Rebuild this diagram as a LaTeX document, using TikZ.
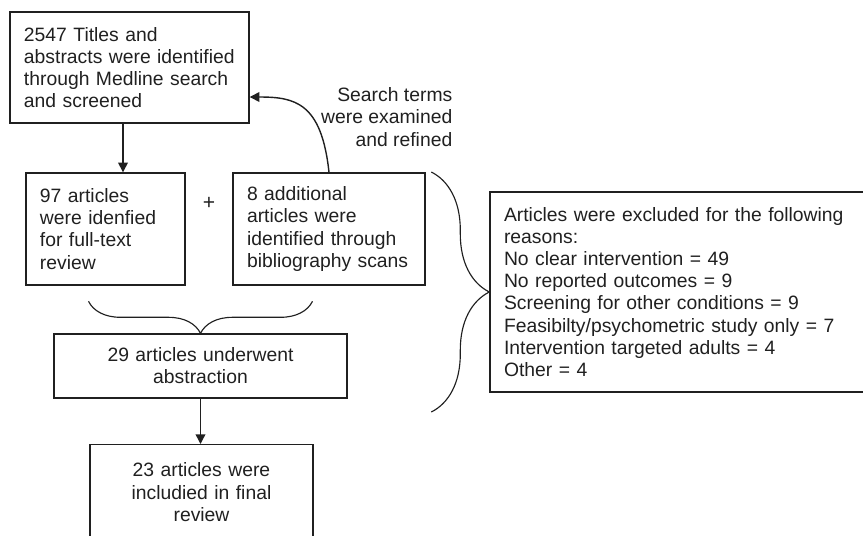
\documentclass[tikz,border=0pt]{standalone}
\usepackage{fontspec}
\setmainfont{Liberation Sans}
\usetikzlibrary{arrows.meta,positioning,calc,decorations.pathreplacing}
\definecolor{FlowInk}{RGB}{32,32,32}
\tikzset{
  lbox/.style={draw=FlowInk,line width=0.8pt,inner xsep=0.28cm,inner ysep=0pt,align=left,text=FlowInk,font=\fontsize{11}{12.6}\selectfont},
  cbox/.style={lbox,align=center},
  arr/.style={-{Triangle[length=5.5pt,width=5.5pt]},FlowInk,line width=0.8pt},
  brc/.style={decorate,FlowInk,line width=0.65pt},
}
\begin{document}
\begin{tikzpicture}
    \path[use as bounding box] (0,0) rectangle (17.26,-10.70);
    \clip (0,0) rectangle (17.26,-10.70);
    \node[lbox,text width=4.22cm,minimum height=2.22cm] (titles)   at (2.59,-1.35) {2547 Titles and\\abstracts were identified\\through Medline search\\and screened};
    \node[lbox,text width=2.62cm,minimum height=2.24cm] (fulltext) at (2.11,-4.58) {97 articles\\were idenfied\\for full-text\\review};
    \node[lbox,text width=3.28cm,minimum height=2.24cm] (biblio)   at (6.58,-4.58) {8 additional\\articles were\\identified through\\bibliography scans};
    \node[text=FlowInk,inner sep=0pt,font=\fontsize{12}{14}\selectfont] (plus) at (4.18,-4.06) {+};
    \node[cbox,text width=5.30cm,minimum height=1.28cm] (abstr) at (4.01,-7.32) {29 articles underwent\\abstraction};
    \node[cbox,text width=3.90cm,minimum height=1.90cm,anchor=north] (final) at (4.03,-8.88) {23 articles were\\includied in final\\review};
    \node[lbox,text width=7.00cm,minimum height=4.00cm] (excl) at (13.58,-5.84) {Articles were excluded for the following\\reasons:\\No clear intervention = 49\\No reported outcomes = 9\\Screening for other conditions = 9\\Feasibilty/psychometric study only = 7\\Intervention targeted adults = 4\\Other = 4};
    \node[lbox,draw=none,align=right,inner sep=0pt,anchor=east] (terms) at (9.06,-2.34) {Search terms\\were examined\\and refined};
    \draw[arr] ([xshift=-0.13cm]titles.south) -- ([xshift=-0.13cm]titles.south |- fulltext.north);
    \draw[arr] (abstr.south) -- (abstr.south |- final.north);
    %% Feedback
    \draw[arr] (biblio.north) .. controls +(-0.15,1.4) and +(0.9,0) .. ([yshift=-0.59cm]titles.east);
    %% Braces
    \draw[brc,decoration={brace,amplitude=0.64cm}] ($(abstr.north)+(2.24,0.64)$) -- ($(abstr.north)+(-2.24,0.64)$);
    \draw[brc,decoration={brace,amplitude=1.16cm}] ($(excl.west)+(-1.16,2.4)$) -- ($(excl.west)+(-1.16,-2.4)$);
  \end{tikzpicture}
\end{document}
